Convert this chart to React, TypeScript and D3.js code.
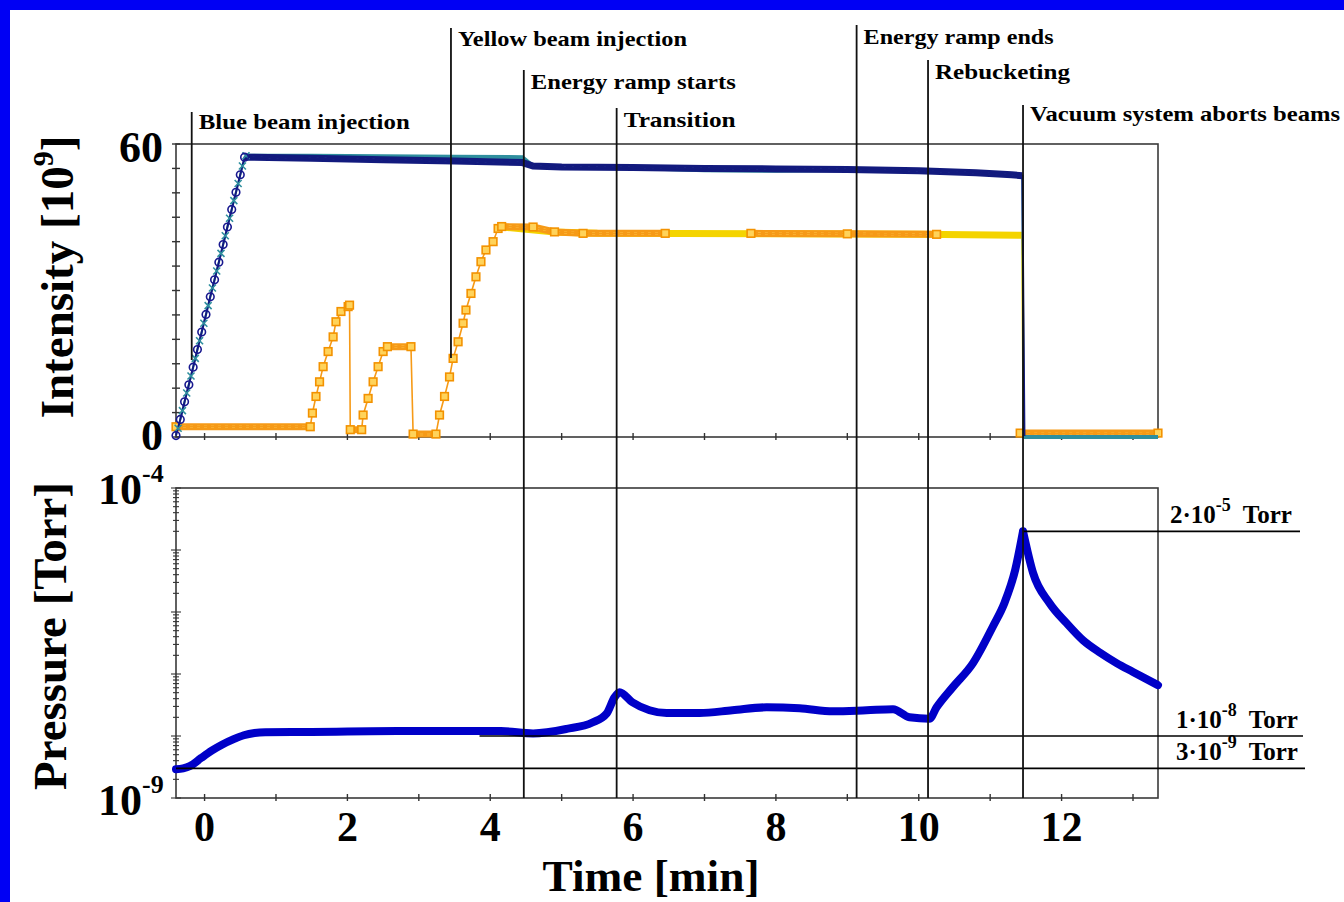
import React from "react";
import * as d3 from "d3";

const WIDTH = 1344;
const HEIGHT = 902;

// Time axis, minutes
const timeDomain: [number, number] = [-0.4, 13.35];
const timeLabelTicks = [0, 2, 4, 6, 8, 10, 12];
const timeMinorTicks = [0, 1, 2, 3, 4, 5, 6, 7, 8, 9, 10, 11, 12, 13];

// Beam intensity axis, units of 10^9 ions
const intensityDomain: [number, number] = [0, 60];
const intensityLabelTicks = [0, 60];
const intensityMinorTicks = [0, 5, 10, 15, 20, 25, 30, 35, 40, 45, 50, 55, 60];

// Pressure axis, Torr (logarithmic)
const pressureDomain: [number, number] = [1e-9, 1e-4];
const pressureLabelValues = [1e-4, 1e-9];
const pressureLabelExponents = ["-4", "-9"];

// [time (min), value]; null marks a stretch without samples
type Sample = [number, number | null];

// Blue ring intensity, main monitor
const blueBeam: Sample[] = [
  [-0.4, 0.3], [-0.34, 3.6], [-0.28, 7.2], [-0.22, 10.7], [-0.16, 14.3], [-0.1, 17.9],
  [-0.04, 21.5], [0.02, 25.1], [0.08, 28.7], [0.14, 32.2], [0.2, 35.8], [0.26, 39.4],
  [0.32, 43.0], [0.38, 46.6], [0.44, 50.1], [0.5, 53.7], [0.56, 57.3],
  [1.5, 57.1], [2.5, 56.8], [3.5, 56.5], [4.45, 56.2], [4.6, 55.5], [5.0, 55.3],
  [6.0, 55.2], [7.0, 55.0], [8.0, 54.9], [9.0, 54.8], [10.0, 54.5], [10.8, 54.1],
  [11.3, 53.7], [11.45, 53.5], [11.48, 0.2],
];

// Blue ring intensity, second monitor
const blueBeamAlt: Sample[] = [
  [-0.37, 1.8], [-0.31, 5.4], [-0.25, 9.0], [-0.19, 12.5], [-0.13, 16.1], [-0.07, 19.7],
  [-0.01, 23.3], [0.05, 26.9], [0.11, 30.5], [0.17, 34.0], [0.23, 37.6], [0.29, 41.2],
  [0.35, 44.8], [0.41, 48.4], [0.47, 51.9], [0.53, 55.5], [0.58, 57.6],
  [1.5, 57.6], [2.5, 57.5], [3.5, 57.4], [4.45, 57.3], [4.6, 55.5], [6.0, 55.1],
  [7.0, 54.6], [8.0, 54.5], [9.0, 54.7], [10.0, 54.4], [11.0, 54.0], [11.45, 53.4],
  [11.47, 0.0], [13.35, 0.0],
];

// Yellow ring intensity, main monitor
const yellowBeam: Sample[] = [
  [-0.4, 2.1], [1.48, 2.1], [1.51, 4.9], [1.56, 8.3], [1.61, 11.3], [1.66, 14.4],
  [1.73, 17.5], [1.8, 20.5], [1.84, 23.6], [1.91, 25.7], [2.01, 26.7], [2.03, 27.0],
  [2.04, 1.5], [2.2, 1.5], [2.22, 4.5], [2.29, 7.9], [2.36, 11.3], [2.43, 14.4],
  [2.5, 17.5], [2.56, 18.5], [2.89, 18.5], [2.92, 0.6], [3.24, 0.6], [3.29, 4.5],
  [3.36, 8.3], [3.43, 12.3], [3.48, 16.1], [3.55, 19.5], [3.62, 23.3], [3.66, 26.0],
  [3.73, 29.4], [3.8, 32.8], [3.87, 35.9], [3.94, 38.3], [4.04, 40.0], [4.11, 42.7],
  [4.16, 43.1], [4.6, 43.0], [4.9, 42.0], [5.3, 41.7], [6.45, 41.7], [6.5, null],
  [7.65, 41.7], [9.0, 41.6], [10.25, 41.5], [10.3, null], [11.42, 0.8], [13.35, 0.8],
];

// Yellow ring intensity, second monitor
const yellowBeamAlt: Sample[] = [
  [4.16, 43.0], [4.9, 42.0], [5.5, 41.7], [8.0, 41.6], [10.0, 41.5], [11.45, 41.3],
  [11.47, 0.5],
];

// Vacuum pressure at the gauge, Torr
const pressure: Sample[] = [
  [-0.4, 2.9e-9], [-0.3, 3.0e-9], [-0.2, 3.3e-9], [-0.05, 4.4e-9], [0.1, 5.8e-9],
  [0.25, 7.3e-9], [0.4, 8.8e-9], [0.55, 1.03e-8], [0.7, 1.12e-8], [0.85, 1.15e-8],
  [1.5, 1.16e-8], [2.7, 1.2e-8], [3.8, 1.2e-8], [4.15, 1.2e-8], [4.6, 1.1e-8],
  [5.07, 1.3e-8], [5.43, 1.65e-8], [5.63, 2.3e-8], [5.74, 4.2e-8], [5.81, 5.1e-8],
  [5.99, 3.5e-8], [6.23, 2.6e-8], [6.47, 2.35e-8], [6.93, 2.35e-8], [7.39, 2.6e-8],
  [7.87, 2.9e-8], [8.33, 2.8e-8], [8.8, 2.5e-8], [9.27, 2.6e-8], [9.64, 2.7e-8],
  [9.87, 2.0e-8], [10.15, 1.9e-8], [10.25, 2.9e-8], [10.48, 6.2e-8], [10.76, 1.5e-7],
  [11.04, 5.9e-7], [11.2, 1.4e-6], [11.35, 4.75e-6], [11.46, 2.0e-5], [11.6, 4.3e-6],
  [11.83, 1.4e-6], [12.07, 6.6e-7], [12.3, 3.5e-7], [12.54, 2.2e-7], [12.77, 1.5e-7],
  [13.0, 1.08e-7], [13.35, 6.6e-8],
];

// Machine events along the fill
const eventNames = [
  "Blue beam injection",
  "Yellow beam injection",
  "Energy ramp starts",
  "Transition",
  "Energy ramp ends",
  "Rebucketing",
  "Vacuum system aborts beams",
];
const eventTimes = [-0.18, 3.45, 4.47, 5.77, 9.13, 10.13, 11.46];

// Pressure levels called out on the right
const pressureMarkValues = [2e-5, 1e-8, 3e-9];
const pressureMarkMantissa = ["2", "1", "3"];
const pressureMarkExponent = ["-5", "-8", "-9"];

const FONT = "'Liberation Serif', 'Times New Roman', serif";

// Split a series into runs of long (flat, densely sampled) segments
function bandRuns(s: Sample[], minDt: number): [number, number][][] {
  const runs: [number, number][][] = [];
  let cur: [number, number][] = [];
  for (let i = 0; i < s.length - 1; i++) {
    const a = s[i];
    const b = s[i + 1];
    const ok = a[1] !== null && b[1] !== null && b[0] - a[0] > minDt;
    if (ok) {
      if (cur.length === 0) cur.push([a[0], a[1] as number]);
      cur.push([b[0], b[1] as number]);
    } else if (cur.length) {
      runs.push(cur);
      cur = [];
    }
  }
  if (cur.length) runs.push(cur);
  return runs;
}

export default function App() {
  const left = 176;
  const right = 1158;
  const topI = 144;
  const botI = 437;
  const topP = 488;
  const botP = 798;

  const x = d3.scaleLinear().domain(timeDomain).range([left, right]);
  const yI = d3.scaleLinear().domain(intensityDomain).range([botI, topI]);
  const yP = d3.scaleLog().domain(pressureDomain).range([botP, topP]);

  const defined = (d: Sample) => d[1] !== null;
  const lineI = d3
    .line<Sample>()
    .defined(defined)
    .x((d) => x(d[0]))
    .y((d) => yI(d[1] as number));
  const lineP = d3
    .line<Sample>()
    .defined(defined)
    .curve(d3.curveMonotoneX)
    .x((d) => x(d[0]))
    .y((d) => yP(d[1] as number));
  const bandPath = (s: Sample[]) =>
    bandRuns(s, 0.12)
      .map((run) => lineI(run as Sample[]))
      .join(" ");

  // smooth rise and decay, meeting in a sharp peak
  const peakIdx = d3.maxIndex(pressure, (d) => d[1] as number);
  const pressurePath =
    (lineP(pressure.slice(0, peakIdx + 1)) ?? "") + " " + (lineP(pressure.slice(peakIdx)) ?? "");

  // label/line layout for the event markers
  const eventLayout = [
    { labelY: 129, top: 112, bottom: 360, width: 211 },
    { labelY: 46, top: 28, bottom: 358, width: 229 },
    { labelY: 89, top: 70, bottom: botP, width: 205 },
    { labelY: 127, top: 108, bottom: botP, width: 112 },
    { labelY: 44, top: 25, bottom: botP, width: 190 },
    { labelY: 79, top: 60, bottom: botP, width: 135 },
    { labelY: 121, top: 105, bottom: botP, width: 310 },
  ];

  // horizontal reference lines for the pressure call-outs
  const markLayout = [
    { x1: x(11.46), x2: 1300, labelX: 1170 },
    { x1: x(3.85), x2: 1303, labelX: 1176 },
    { x1: left, x2: 1305, labelX: 1176 },
  ];

  const pTicks = yP.ticks();
  const isDecade = (v: number) => Math.abs(Math.log10(v) - Math.round(Math.log10(v))) < 1e-6;

  return (
    <svg
      width={WIDTH}
      height={HEIGHT}
      style={{ position: "fixed", left: 0, top: 0, background: "#ffffff" }}
      fontFamily={FONT}
    >
      <rect x={0} y={0} width={WIDTH} height={HEIGHT} fill="#ffffff" />
      {/* frame strip along the top and left edges */}
      <rect x={0} y={0} width={WIDTH} height={10} fill="#0000f4" />
      <rect x={0} y={0} width={10} height={HEIGHT} fill="#0000f4" />

      {/* panel frames */}
      <rect x={left} y={topI} width={right - left} height={botI - topI} fill="none" stroke="#3a3a3a" strokeWidth={1.6} />
      <rect x={left} y={topP} width={right - left} height={botP - topP} fill="none" stroke="#3a3a3a" strokeWidth={1.6} />

      {/* time ticks on both panels */}
      {timeMinorTicks.map((t) => (
        <g key={"tt" + t} stroke="#333" strokeWidth={1.4}>
          <line x1={x(t)} x2={x(t)} y1={botI - 4} y2={botI + 3} />
          <line x1={x(t)} x2={x(t)} y1={botP - 4} y2={botP + 3} />
        </g>
      ))}
      {/* intensity ticks */}
      {intensityMinorTicks.map((v) => (
        <line key={"it" + v} x1={left - 4} x2={left + 4} y1={yI(v)} y2={yI(v)} stroke="#333" strokeWidth={1.4} />
      ))}
      {/* pressure ticks */}
      {pTicks.map((v, i) => {
        const major = isDecade(v);
        return (
          <line
            key={"pt" + i}
            x1={left - (major ? 5 : 3)}
            x2={left + (major ? 5 : 3)}
            y1={yP(v)}
            y2={yP(v)}
            stroke="#333"
            strokeWidth={1.1}
          />
        );
      })}

      {/* yellow ring, second monitor */}
      <path d={bandPath(yellowBeamAlt)} fill="none" stroke="#f4d400" strokeWidth={7} />
      <path d={lineI(yellowBeamAlt) ?? ""} fill="none" stroke="#f4d400" strokeWidth={2.5} />

      {/* yellow ring, main monitor */}
      <path d={bandPath(yellowBeam)} fill="none" stroke="#f69a17" strokeWidth={7} />
      <path d={bandPath(yellowBeam)} fill="none" stroke="#ffce55" strokeWidth={2.2} strokeDasharray="3 4" />
      <path d={lineI(yellowBeam) ?? ""} fill="none" stroke="#f69a17" strokeWidth={1.6} />
      {yellowBeam
        .filter(defined)
        .map((d, i) => (
          <rect
            key={"ys" + i}
            x={x(d[0]) - 3.8}
            y={yI(d[1] as number) - 3.8}
            width={7.6}
            height={7.6}
            fill="#ffd35a"
            stroke="#f39200"
            strokeWidth={1.6}
          />
        ))}

      {/* blue ring, second monitor */}
      <path d={bandPath(blueBeamAlt)} fill="none" stroke="#2f8f9e" strokeWidth={4} />
      <path d={lineI(blueBeamAlt) ?? ""} fill="none" stroke="#2f8f9e" strokeWidth={2} />
      {/* blue ring, main monitor */}
      <path d={bandPath(blueBeam)} fill="none" stroke="#121a7e" strokeWidth={7} />
      <path d={bandPath(blueBeam)} fill="none" stroke="#4a6ab8" strokeWidth={1.2} strokeDasharray="2 6" />
      <path d={lineI(blueBeam) ?? ""} fill="none" stroke="#121a7e" strokeWidth={2} />
      {blueBeamAlt
        .filter((d, i) => i < 17)
        .map((d, i) => {
          const cx = x(d[0]);
          const cy = yI(d[1] as number);
          return (
            <path
              key={"bx" + i}
              d={`M${cx - 3.5},${cy - 3.5}L${cx + 3.5},${cy + 3.5}M${cx - 3.5},${cy + 3.5}L${cx + 3.5},${cy - 3.5}`}
              stroke="#2f8f9e"
              strokeWidth={1.6}
            />
          );
        })}
      {blueBeam
        .filter((d, i) => i < 17)
        .map((d, i) => (
          <circle
            key={"bc" + i}
            cx={x(d[0])}
            cy={yI(d[1] as number)}
            r={3.8}
            fill="none"
            stroke="#18188f"
            strokeWidth={1.6}
          />
        ))}

      {/* pressure */}
      <path d={pressurePath} fill="none" stroke="#0000c8" strokeWidth={8} strokeLinejoin="round" strokeLinecap="round" />

      {/* pressure call-out lines and labels */}
      {pressureMarkValues.map((v, i) => {
        const yy = yP(v);
        const L = markLayout[i];
        return (
          <g key={"pm" + i}>
            <line x1={L.x1} x2={L.x2} y1={yy} y2={yy} stroke="#000" strokeWidth={1.6} />
            <text x={L.labelX} y={yy - 8} fontSize={25} fontWeight="bold" fill="#000">
              {pressureMarkMantissa[i]}
              {"\u00b710"}
              <tspan dy={-12} fontSize={18}>
                {pressureMarkExponent[i]}
              </tspan>
              <tspan dy={12} dx={12}>
                Torr
              </tspan>
            </text>
          </g>
        );
      })}

      {/* event lines and labels */}
      {eventNames.map((name, i) => {
        const ex = x(eventTimes[i]);
        const L = eventLayout[i];
        return (
          <g key={"ev" + i}>
            <line x1={ex} x2={ex} y1={L.top} y2={L.bottom} stroke="#111" strokeWidth={1.8} />
            <text
              x={ex + 7}
              y={L.labelY}
              fontSize={22}
              fontWeight="bold"
              fill="#000"
              textLength={L.width}
              lengthAdjust="spacingAndGlyphs"
            >
              {name}
            </text>
          </g>
        );
      })}

      {/* axis labels */}
      {intensityLabelTicks.map((v) => (
        <text
          key={"il" + v}
          x={163}
          y={yI(v) + (v === 0 ? 13 : 18)}
          textAnchor="end"
          fontSize={44}
          fontWeight="bold"
          fill="#000"
        >
          {v}
        </text>
      ))}
      {pressureLabelValues.map((v, i) => (
        <text key={"pl" + i} x={98} y={yP(v) + (i === 0 ? 16 : 17)} fontSize={44} fontWeight="bold" fill="#000">
          10
          <tspan dy={-22} fontSize={26}>
            {pressureLabelExponents[i]}
          </tspan>
        </text>
      ))}
      {timeLabelTicks.map((t) => (
        <text key={"tl" + t} x={x(t)} y={841} textAnchor="middle" fontSize={42} fontWeight="bold" fill="#000">
          {t}
        </text>
      ))}

      <text transform="translate(73,277) rotate(-90)" textAnchor="middle" fontSize={47} fontWeight="bold" fill="#000">
        Intensity [10
        <tspan dy={-20} fontSize={30}>
          9
        </tspan>
        <tspan dy={20}>]</tspan>
      </text>
      <text
        transform="translate(66,636) rotate(-90)"
        textAnchor="middle"
        fontSize={47}
        fontWeight="bold"
        fill="#000"
        textLength={308}
        lengthAdjust="spacingAndGlyphs"
      >
        Pressure [Torr]
      </text>
      <text
        x={651}
        y={891}
        textAnchor="middle"
        fontSize={45}
        fontWeight="bold"
        fill="#000"
        textLength={217}
        lengthAdjust="spacingAndGlyphs"
      >
        Time [min]
      </text>
    </svg>
  );
}
